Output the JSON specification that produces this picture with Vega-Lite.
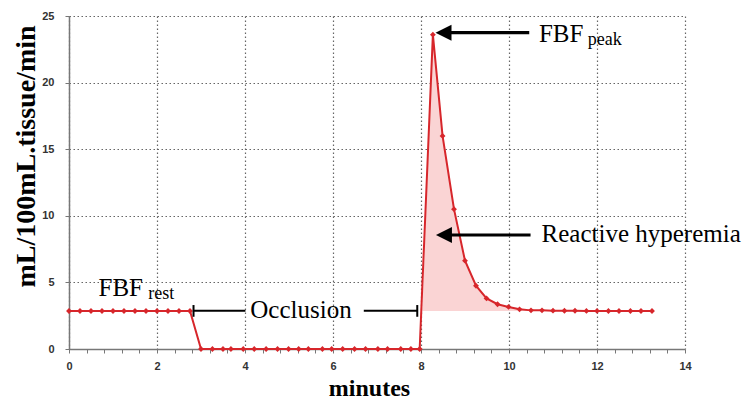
{
  "$schema": "https://vega.github.io/schema/vega-lite/v6.json",
  "width": 616,
  "height": 333,
  "autosize": {"type": "none"},
  "padding": {"left": 69, "top": 16, "right": 59, "bottom": 51},
  "background": "white",
  "config": {
    "view": {"stroke": null},
    "axis": {"labelFont": "Liberation Sans", "labelFontWeight": "bold", "labelFontSize": 11, "labelColor": "#333", "titleFont": "Liberation Serif", "titleFontWeight": "bold", "titleColor": "black", "domainColor": "#777", "domainWidth": 1.5, "tickColor": "#777", "gridColor": "#666", "gridDash": [1.5, 2.5], "gridWidth": 1.2}
  },
  "datasets": {
    "flow": [
      {"x": 0, "y": 2.85}, {"x": 0.25, "y": 2.85}, {"x": 0.5, "y": 2.85}, {"x": 0.75, "y": 2.85},
      {"x": 1.0, "y": 2.85}, {"x": 1.25, "y": 2.85}, {"x": 1.5, "y": 2.85}, {"x": 1.75, "y": 2.85},
      {"x": 2.0, "y": 2.85}, {"x": 2.25, "y": 2.85}, {"x": 2.5, "y": 2.85}, {"x": 2.75, "y": 2.85},
      {"x": 3.0, "y": 0}, {"x": 3.26, "y": 0}, {"x": 3.5, "y": 0}, {"x": 3.68, "y": 0},
      {"x": 3.96, "y": 0}, {"x": 4.21, "y": 0}, {"x": 4.48, "y": 0}, {"x": 4.74, "y": 0},
      {"x": 4.99, "y": 0}, {"x": 5.22, "y": 0}, {"x": 5.44, "y": 0}, {"x": 5.76, "y": 0},
      {"x": 5.97, "y": 0}, {"x": 6.22, "y": 0}, {"x": 6.49, "y": 0}, {"x": 6.74, "y": 0},
      {"x": 7.02, "y": 0}, {"x": 7.24, "y": 0}, {"x": 7.54, "y": 0}, {"x": 7.77, "y": 0},
      {"x": 7.97, "y": 0},
      {"x": 8.27, "y": 23.6}, {"x": 8.49, "y": 16.0}, {"x": 8.75, "y": 10.5}, {"x": 9.0, "y": 6.63},
      {"x": 9.25, "y": 4.75}, {"x": 9.49, "y": 3.8}, {"x": 9.74, "y": 3.36}, {"x": 9.99, "y": 3.16},
      {"x": 10.24, "y": 2.98}, {"x": 10.5, "y": 2.9}, {"x": 10.75, "y": 2.9}, {"x": 11.0, "y": 2.88},
      {"x": 11.26, "y": 2.87}, {"x": 11.5, "y": 2.87}, {"x": 11.76, "y": 2.86}, {"x": 12.0, "y": 2.86},
      {"x": 12.26, "y": 2.85}, {"x": 12.5, "y": 2.85}, {"x": 12.76, "y": 2.85}, {"x": 13.0, "y": 2.85},
      {"x": 13.25, "y": 2.85}
    ],
    "hyperemia": [
      {"x": 8.03, "y": 2.85}, {"x": 8.27, "y": 23.6}, {"x": 8.49, "y": 16.0}, {"x": 8.75, "y": 10.5},
      {"x": 9.0, "y": 6.63}, {"x": 9.25, "y": 4.75}, {"x": 9.49, "y": 3.8}, {"x": 9.74, "y": 3.36},
      {"x": 9.99, "y": 3.16}, {"x": 10.24, "y": 2.98}, {"x": 10.5, "y": 2.9}
    ]
  },
  "resolve": {"axis": {"x": "independent"}},
  "layer": [
    {
      "data": {"name": "hyperemia"},
      "mark": {"type": "area", "color": "#fad4d4", "opacity": 1},
      "encoding": {
        "x": {"field": "x", "type": "quantitative", "scale": {"domain": [0, 14], "nice": false, "zero": false},
          "axis": {"orient": "bottom", "values": [0, 2, 4, 6, 8, 10, 12, 14], "grid": true,
            "tickSize": 4, "labelPadding": 7, "labelFlush": false, "labelOverlap": false,
            "title": "minutes", "titleFontSize": 24, "titleBaseline": "alphabetic", "titleY": 46, "titleX": 300}},
        "y": {"field": "y", "type": "quantitative", "scale": {"domain": [0, 25], "nice": false},
          "axis": {"values": [0, 5, 10, 15, 20, 25], "tickSize": 4, "labelPadding": 11, "grid": true,
            "title": "mL/100mL.tissue/min", "titleFontSize": 28, "titleBaseline": "alphabetic", "titleX": -35, "titleY": 140, "titleAngle": -90, "titleAlign": "center"}},
        "y2": {"datum": 2.85}
      }
    },
    {
      "data": {"name": "flow"},
      "mark": {"type": "line", "color": "#d7262b", "strokeWidth": 2},
      "encoding": {
        "x": {"field": "x", "type": "quantitative",
          "axis": {"orient": "bottom", "values": [0.4,0.8,1.2,1.6,2.4,2.8,3.2,3.6,4.4,4.8,5.2,5.6,6.4,6.8,7.2,7.6,8.4,8.8,9.2,9.6,10.4,10.8,11.2,11.6,12.4,12.8,13.2,13.6],
            "labels": false, "grid": false, "domain": false, "title": null, "tickSize": 4}},
        "y": {"field": "y", "type": "quantitative"}
      }
    },
    {
      "data": {"name": "flow"},
      "mark": {"type": "point", "shape": "diamond", "filled": true, "color": "#d7262b", "size": 34, "opacity": 1},
      "encoding": {
        "x": {"field": "x", "type": "quantitative", "axis": null},
        "y": {"field": "y", "type": "quantitative"}
      }
    },
    {
      "data": {"values": [{"x": 2.83, "x2": 4.01, "y": 2.87}, {"x": 6.7, "x2": 7.915, "y": 2.87}]},
      "mark": {"type": "rule", "color": "black", "strokeWidth": 2},
      "encoding": {
        "x": {"field": "x", "type": "quantitative", "axis": null},
        "x2": {"field": "x2"},
        "y": {"field": "y", "type": "quantitative"}
      }
    },
    {
      "data": {"values": [{"x": 2.83, "y": 2.42, "y2": 3.3}, {"x": 7.915, "y": 2.42, "y2": 3.3}]},
      "mark": {"type": "rule", "color": "black", "strokeWidth": 2},
      "encoding": {
        "x": {"field": "x", "type": "quantitative", "axis": null},
        "y": {"field": "y", "type": "quantitative"},
        "y2": {"field": "y2"}
      }
    },
    {
      "data": {"values": [{"x": 8.5, "x2": 10.46, "y": 23.75}, {"x": 8.5, "x2": 10.49, "y": 8.56}]},
      "mark": {"type": "rule", "color": "black", "strokeWidth": 3.2},
      "encoding": {
        "x": {"field": "x", "type": "quantitative", "axis": null},
        "x2": {"field": "x2"},
        "y": {"field": "y", "type": "quantitative"}
      }
    },
    {
      "data": {"values": [{"x": 8.33, "y": 23.75}, {"x": 8.34, "y": 8.56}]},
      "mark": {"type": "point", "shape": "M0,0L1,-0.5L1,0.5Z", "size": 1024, "filled": true, "color": "black", "opacity": 1},
      "encoding": {
        "x": {"field": "x", "type": "quantitative", "axis": null},
        "y": {"field": "y", "type": "quantitative"}
      }
    },
    {
      "data": {"values": [
        {"x": 0.67, "y": 3.98, "label": "FBF"},
        {"x": 10.68, "y": 23.03, "label": "FBF"},
        {"x": 4.12, "y": 2.3, "label": "Occlusion"},
        {"x": 10.74, "y": 8.06, "label": "Reactive hyperemia"}
      ]},
      "mark": {"type": "text", "font": "Liberation Serif", "fontSize": 25, "align": "left", "baseline": "alphabetic", "color": "black"},
      "encoding": {
        "x": {"field": "x", "type": "quantitative", "axis": null},
        "y": {"field": "y", "type": "quantitative"},
        "text": {"field": "label"}
      }
    },
    {
      "data": {"values": [
        {"x": 1.8, "y": 3.73, "label": "rest"},
        {"x": 11.79, "y": 22.82, "label": "peak"}
      ]},
      "mark": {"type": "text", "font": "Liberation Serif", "fontSize": 18, "align": "left", "baseline": "alphabetic", "color": "black"},
      "encoding": {
        "x": {"field": "x", "type": "quantitative", "axis": null},
        "y": {"field": "y", "type": "quantitative"},
        "text": {"field": "label"}
      }
    }
  ]
}
